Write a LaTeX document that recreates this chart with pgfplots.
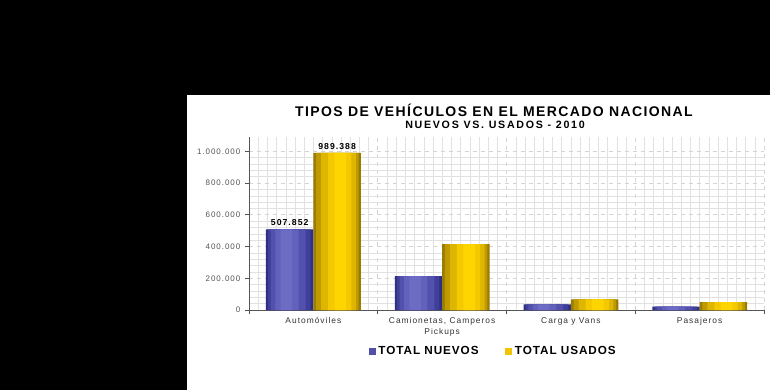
\documentclass[border=0pt]{standalone}
\usepackage{fontspec}
\setmainfont{Liberation Sans}
\newfontfamily\spaced[LetterSpace=12]{Liberation Sans}
\newfontfamily\titlef[LetterSpace=10]{Liberation Sans}
\newfontfamily\subf[LetterSpace=16]{Liberation Sans}
\newfontfamily\legf[LetterSpace=8]{Liberation Sans}
\usepackage{pgfplots}
\usepackage{pgfplotstable}
\pgfplotsset{compat=1.18}
\definecolor{gridc}{HTML}{D4D4D4}
\definecolor{tickc}{HTML}{555555}
\definecolor{nA}{RGB}{46,46,130}
\definecolor{nB}{RGB}{64,64,154}
\definecolor{nC}{RGB}{82,82,174}
\definecolor{nD}{RGB}{98,98,188}
\definecolor{nE}{RGB}{108,108,196}
\definecolor{nLeg}{RGB}{80,80,170}
\definecolor{uA}{RGB}{154,124,0}
\definecolor{uB}{RGB}{190,154,0}
\definecolor{uC}{RGB}{222,182,0}
\definecolor{uD}{RGB}{245,201,0}
\definecolor{uE}{RGB}{255,213,0}
\definecolor{uLeg}{RGB}{240,196,0}
\pgfplotstableread{
x y lab
0 507852 507.852
1 214000 {}
2 36000 {}
3 21000 {}
}\nuevos
\pgfplotstableread{
x y lab
0 989388 989.388
1 415000 {}
2 67000 {}
3 50000 {}
}\usados
\begin{document}
\begin{tikzpicture}
\begin{scope}[x=0.75pt,y=0.75pt]
\fill[black] (0,0) rectangle (770,390);
\fill[white] (187,0) rectangle (770,295);
\node[font=\titlef\bfseries\fontsize{10.5}{12}\selectfont] at (494,280) {TIPOS DE VEHÍCULOS EN EL MERCADO NACIONAL};
\node[font=\subf\bfseries\fontsize{8}{9}\selectfont] at (495,265) {NUEVOS VS. USADOS - 2010};
\end{scope}
\begin{axis}[
  at={(186.75pt,60pt)}, anchor=south west,
  scale only axis, width=386.25pt, height=129.75pt,
  ybar=0pt, bar width=0.368,
  xmin=-0.5, xmax=3.5, ymin=0, ymax=1090000,
  axis lines=left, axis line style={-, tickc, line width=0.6pt},
  xtick={-0.5,0.5,1.5,2.5,3.5}, xticklabels={},
  minor x tick num=13,
  extra x ticks={0,1,2,3},
  extra x tick labels={Automóviles,{Camionetas, Camperos\\Pickups},Carga y Vans,Pasajeros},
  extra x tick style={major tick length=0pt, grid=none,
     xticklabel style={align=center, yshift=-2pt, font=\spaced\fontsize{6.3}{8.2}\selectfont, text=black!80}},
  ytick={0,200000,400000,600000,800000,1000000},
  minor y tick num=4,
  scaled y ticks=false,
  yticklabel style={font=\spaced\fontsize{6}{7}\selectfont, text=tickc, /pgf/number format/.cd, fixed, 1000 sep={.}, assume math mode=true},
  tick style={tickc, line width=0.5pt},
  major tick length=3pt, minor tick length=0pt,
  tick align=outside,
  xmajorgrids, xminorgrids, ymajorgrids, yminorgrids,
  major grid style={gridc, dashed, line width=0.45pt},
  minor grid style={gridc!70, line width=0.3pt},
  ytick pos=left, xtick pos=bottom,
  legend style={at={(0.475,-0.24)}, anchor=center, draw=none, fill=none,
     font=\legf\bfseries\fontsize{8.8}{10}\selectfont, legend columns=2,
     /tikz/every even column/.append style={column sep=18pt}},
]
% TOTAL NUEVOS (gradient imitated with stacked strips)
\addplot[draw=none, fill=nA, bar shift=-0.184, bar width=0.368,
   nodes near coords, point meta=explicit symbolic,
   every node near coord/.append style={font=\spaced\bfseries\fontsize{6.5}{8}\selectfont, black, yshift=-1pt},
   legend image code/.code={\fill[nLeg] (-1pt,-2.6pt) rectangle (4.2pt,2.6pt);}]
   table[x=x,y=y,meta=lab]{\nuevos};
\addplot[forget plot, draw=none, fill=nB, bar shift=-0.187, bar width=0.33] table[x=x,y=y]{\nuevos};
\addplot[forget plot, draw=none, fill=nC, bar shift=-0.195, bar width=0.27] table[x=x,y=y]{\nuevos};
\addplot[forget plot, draw=none, fill=nD, bar shift=-0.205, bar width=0.18] table[x=x,y=y]{\nuevos};
\addplot[forget plot, draw=none, fill=nE, bar shift=-0.21, bar width=0.09] table[x=x,y=y]{\nuevos};
% TOTAL USADOS
\addplot[draw=none, fill=uA, bar shift=0.184, bar width=0.368,
   nodes near coords, point meta=explicit symbolic,
   every node near coord/.append style={font=\spaced\bfseries\fontsize{6.5}{8}\selectfont, black, yshift=-1pt},
   legend image code/.code={\fill[uLeg] (-1pt,-2.6pt) rectangle (4.2pt,2.6pt);}]
   table[x=x,y=y,meta=lab]{\usados};
\addplot[forget plot, draw=none, fill=uB, bar shift=0.187, bar width=0.33] table[x=x,y=y]{\usados};
\addplot[forget plot, draw=none, fill=uC, bar shift=0.195, bar width=0.27] table[x=x,y=y]{\usados};
\addplot[forget plot, draw=none, fill=uD, bar shift=0.205, bar width=0.18] table[x=x,y=y]{\usados};
\addplot[forget plot, draw=none, fill=uE, bar shift=0.21, bar width=0.09] table[x=x,y=y]{\usados};
\legend{TOTAL NUEVOS, TOTAL USADOS}
\end{axis}
\end{tikzpicture}
\end{document}
